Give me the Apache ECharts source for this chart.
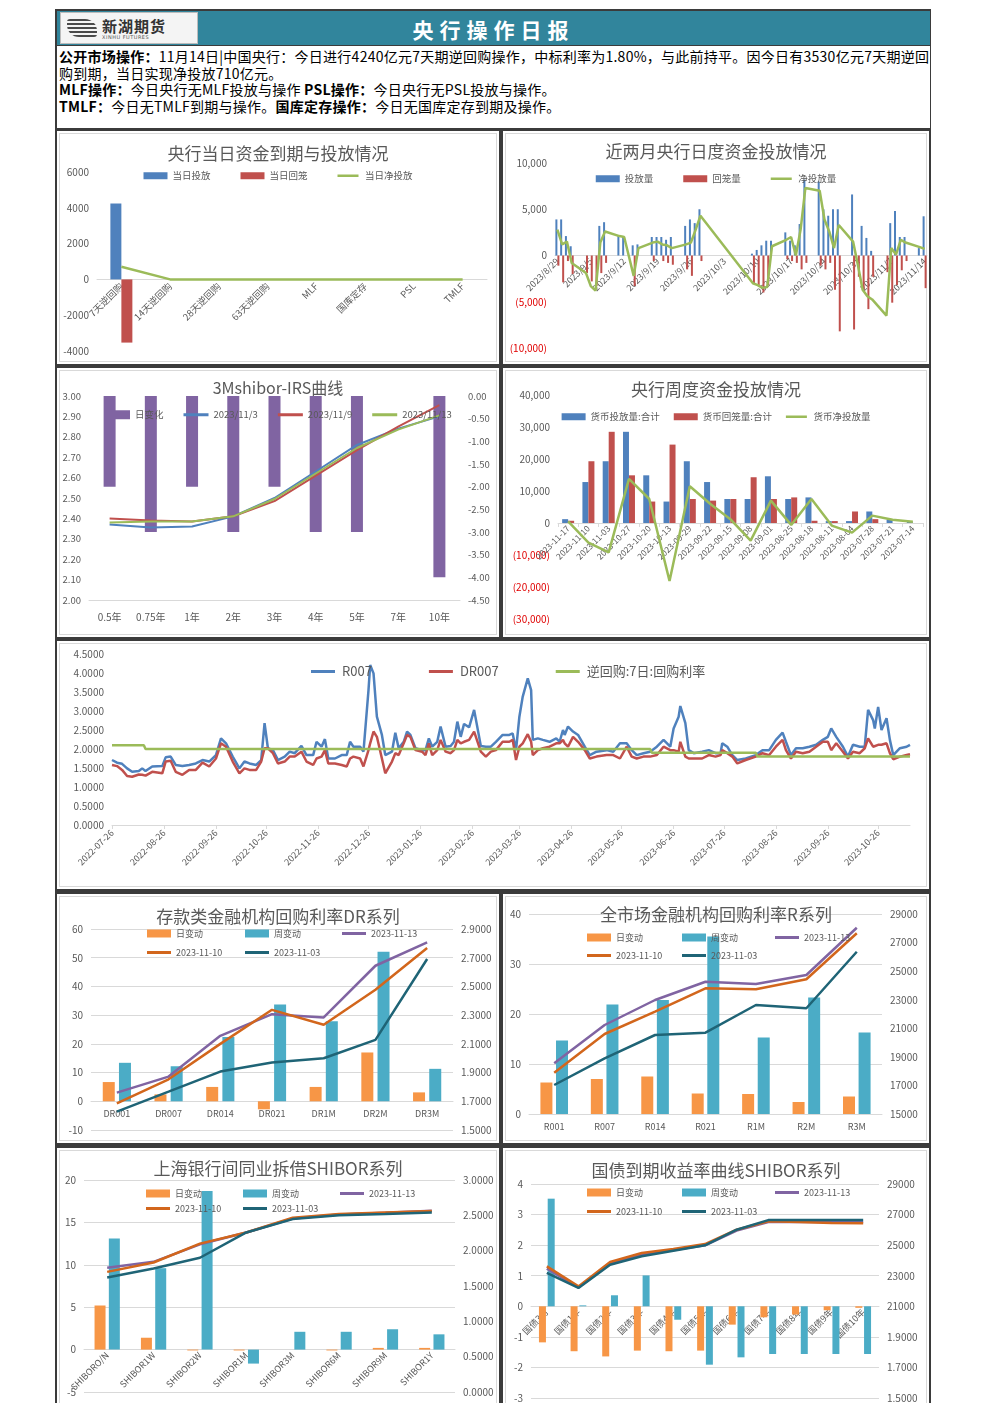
<!DOCTYPE html>
<html>
<head>
<meta charset="utf-8">
<title>央行操作日报</title>
<script src="https://cdn.jsdelivr.net/npm/echarts@6.0.0/dist/echarts.min.js"></script>
<style>
  html, body { margin: 0; padding: 0; background: #fff; }
  body { width: 992px; height: 1403px; overflow: hidden; position: relative; font-family: 'Noto Sans CJK SC', 'Noto Sans', sans-serif; }
  #frame { position: absolute; left: 55px; top: 9px; width: 876px; height: 1410px; background: #3b3b3b; }
  #bar { position: absolute; left: 2px; top: 2px; width: 873px; height: 34px; background: #31859c; }
  #logo { position: absolute; left: 3px; top: 1px; width: 136px; height: 30px; background: #f4f4f4; border: 1px solid #bbb; }
  #waves { position: absolute; left: 6px; top: 6px; width: 30px; height: 18px;
           background: repeating-linear-gradient(#4a4a4a 0 2px, transparent 2px 4px); border-radius: 3px 12px 3px 12px; }
  #lname { position: absolute; left: 41px; top: 2px; font-size: 15px; font-weight: bold; color: #333; letter-spacing: 1px; }
  #lsub { position: absolute; left: 41px; top: 21px; font-size: 5px; color: #555; letter-spacing: 0.5px; font-family: 'DejaVu Sans', sans-serif; }
  #htitle { position: absolute; left: 0; right: 0; top: 3px; text-align: center; color: #fff; font-size: 21px; font-weight: bold; letter-spacing: 6px; }
  #notes { position: absolute; left: 2px; top: 37px; width: 871px; height: 80px; background: #fff; padding: 2px 0 0 2px;
           font-size: 14px; line-height: 16.5px; color: #000; white-space: nowrap; letter-spacing: 0.25px; }
  #notes b { font-weight: bold; }
  .panel { position: absolute; background: #fff; }
  .ib { position: absolute; left: 2px; top: 2px; right: 2px; bottom: 2px; border: 1px solid #d9d9d9; }
  .chart { position: absolute; left: 0; top: 0; right: 0; bottom: 0; }
</style>
</head>
<body>
<div id="frame">
  <div id="bar">
    <div id="logo"><div id="waves"></div><div id="lname">新湖期货</div><div id="lsub">XINHU FUTURES</div></div>
    <div id="htitle">央行操作日报</div>
  </div>
  <div id="notes"><b>公开市场操作：</b>11月14日|中国央行：今日进行4240亿元7天期逆回购操作，中标利率为1.80%，与此前持平。因今日有3530亿元7天期逆回<br>购到期，当日实现净投放710亿元。<br><b>MLF操作：</b>今日央行无MLF投放与操作 <b>PSL操作：</b>今日央行无PSL投放与操作。<br><b>TMLF：</b>今日无TMLF到期与操作。<b>国库定存操作：</b>今日无国库定存到期及操作。</div>

  <div class="panel" style="left:2px;top:122px;width:442px;height:233px"><div class="ib"></div><div class="chart" id="c1"></div></div>
  <div class="panel" style="left:448px;top:122px;width:426px;height:233px"><div class="ib"></div><div class="chart" id="c2"></div></div>
  <div class="panel" style="left:2px;top:359px;width:442px;height:269px"><div class="ib"></div><div class="chart" id="c3"></div></div>
  <div class="panel" style="left:448px;top:359px;width:426px;height:269px"><div class="ib"></div><div class="chart" id="c4"></div></div>
  <div class="panel" style="left:2px;top:632px;width:872px;height:248px"><div class="ib"></div><div class="chart" id="c5"></div></div>
  <div class="panel" style="left:2px;top:885px;width:442px;height:249px"><div class="ib"></div><div class="chart" id="c6"></div></div>
  <div class="panel" style="left:448px;top:885px;width:426px;height:249px"><div class="ib"></div><div class="chart" id="c7"></div></div>
  <div class="panel" style="left:2px;top:1139px;width:442px;height:270px"><div class="ib"></div><div class="chart" id="c8"></div></div>
  <div class="panel" style="left:448px;top:1139px;width:426px;height:270px"><div class="ib"></div><div class="chart" id="c9"></div></div>
</div>

<script>
// ---- 央行当日资金到期与投放情况 ----
const c1Cats = ['7天逆回购', '14天逆回购', '28天逆回购', '63天逆回购', 'MLF', '国库定存', 'PSL', 'TMLF'];
const c1Inject = [4240, 0, 0, 0, 0, 0, 0, 0];
const c1Withdraw = [-3530, 0, 0, 0, 0, 0, 0, 0];
const c1Net = [710, 0, 0, 0, 0, 0, 0, 0];

// ---- 近两月央行日度资金投放情况 (trading days) ----
const c2Dates = ['2023-08-29', '2023-08-30', '2023-08-31', '2023-09-01', '2023-09-04', '2023-09-05', '2023-09-06',
  '2023-09-07', '2023-09-08', '2023-09-11', '2023-09-12', '2023-09-14', '2023-09-15', '2023-09-18', '2023-09-19',
  '2023-09-20', '2023-09-21', '2023-09-22', '2023-09-25', '2023-09-26', '2023-09-27', '2023-09-28', '2023-10-09',
  '2023-10-10', '2023-10-11', '2023-10-12', '2023-10-13', '2023-10-16', '2023-10-17', '2023-10-18', '2023-10-19',
  '2023-10-20', '2023-10-23', '2023-10-24', '2023-10-25', '2023-10-26', '2023-10-27', '2023-10-30', '2023-10-31',
  '2023-11-01', '2023-11-02', '2023-11-03', '2023-11-06', '2023-11-07', '2023-11-08', '2023-11-09', '2023-11-10',
  '2023-11-13', '2023-11-14'];
const c2Inject = [3900, 3900, 2100, 1000, 0, 0, 0, 3200, 3600, 2100, 2000, 1100, 1200, 2000, 2000, 2000, 1700, 2000,
  3200, 3900, 3500, 5000, 200, 600, 1100, 1600, 1600, 2500, 1600, 1100, 3400, 8200, 8000, 5000, 4300, 5000, 5000,
  6600, 0, 3200, 1900, 500, 0, 3500, 4800, 2000, 2000, 800, 4240];
const c2Withdraw = [-1100, -2900, -600, -2000, -1900, -2800, -3300, -1900, -800, 0, 0, -3300, 0, -600, 0, -600, -800,
  -1000, -1500, -2200, 0, -600, -3000, -3300, -4000, -3200, 0, -400, -600, -800, -1500, -800, -1100, -1500, -800,
  -3700, -8200, -8000, -2300, -3700, -5800, -2300, -1800, -5100, -3200, -1600, -600, 0, -3530];
const c2Net = [2800, 1200, 1500, -800, -1900, -3300, -3800, 1400, 2600, 2100, 2000, -2200, 800, 1400, 1500, 1200, 1100,
  800, 1200, 1400, 2800, 4300, -3000, -3200, -3500, -3400, 1000, 1700, 2000, 0, 2800, 7300, 7000, 3900, 2600, 800,
  3300, 1500, -1000, -3700, -4400, -4750, -6500, 800, 100, 1700, 1400, 900, 710];

// ---- 3Mshibor-IRS曲线 ----
const c3Tenors = ['0.5年', '0.75年', '1年', '2年', '3年', '4年', '5年', '7年', '10年'];
const c3Change = [-2, -3, -2, -3, -2, -3, -3, 0, -4];
const c3Nov3 = [2.37, 2.355, 2.36, 2.41, 2.50, 2.63, 2.76, 2.84, 2.90];
const c3Nov9 = [2.40, 2.39, 2.385, 2.41, 2.485, 2.61, 2.735, 2.85, 2.955];
const c3Nov13 = [2.38, 2.385, 2.385, 2.41, 2.495, 2.62, 2.745, 2.835, 2.905];

// ---- 央行周度资金投放情况 ----
const c4Weeks = ['2023-11-17', '2023-11-10', '2023-11-03', '2023-10-27', '2023-10-20', '2023-10-13', '2023-09-29',
  '2023-09-22', '2023-09-15', '2023-09-08', '2023-09-01', '2023-08-25', '2023-08-18', '2023-08-11', '2023-08-04',
  '2023-07-28', '2023-07-21', '2023-07-14'];
const c4Inject = [1200, 12800, 19300, 28500, 14900, 6700, 19300, 12800, 7500, 7500, 14600, 7500, 8000, 600, 600, 3600, 1000, 400];
const c4Withdraw = [700, 19300, 28500, 14900, 6700, 24500, 7500, 7000, 7500, 14300, 7500, 8000, 700, 600, 3600, 1200, 0, 0];
const c4Net = [500, -6100, -9200, 13800, 7500, -18100, 11500, 6000, 1200, -5500, 7000, -600, 7500, -800, -3000, 2300, 1000, 400];

// ---- R007 / DR007 / 逆回购7日 ----
const c5Dates = ['2022-07-26', '2022-07-29', '2022-08-01', '2022-08-04', '2022-08-07', '2022-08-11', '2022-08-13',
  '2022-08-15', '2022-08-19', '2022-08-25', '2022-08-27', '2022-08-30', '2022-09-02', '2022-09-06', '2022-09-10',
  '2022-09-14', '2022-09-18', '2022-09-22', '2022-09-26', '2022-09-29', '2022-10-02', '2022-10-06', '2022-10-10',
  '2022-10-13', '2022-10-16', '2022-10-20', '2022-10-23', '2022-10-25', '2022-10-27', '2022-10-30', '2022-11-02',
  '2022-11-06', '2022-11-09', '2022-11-12', '2022-11-16', '2022-11-19', '2022-11-23', '2022-11-25', '2022-11-28',
  '2022-11-30', '2022-12-02', '2022-12-06', '2022-12-10', '2022-12-13', '2022-12-15', '2022-12-17', '2022-12-21',
  '2022-12-23', '2022-12-26', '2022-12-27', '2022-12-29', '2022-12-31', '2023-01-03', '2023-01-05', '2023-01-09',
  '2023-01-11', '2023-01-13', '2023-01-16', '2023-01-18', '2023-01-20', '2023-01-23', '2023-01-27', '2023-01-29',
  '2023-01-31', '2023-02-02', '2023-02-05', '2023-02-07', '2023-02-10', '2023-02-13', '2023-02-15', '2023-02-17',
  '2023-02-19', '2023-02-21', '2023-02-24', '2023-02-27', '2023-03-03', '2023-03-06', '2023-03-09', '2023-03-12',
  '2023-03-16', '2023-03-20', '2023-03-22', '2023-03-24', '2023-03-26', '2023-03-28', '2023-03-31', '2023-04-02',
  '2023-04-03', '2023-04-06', '2023-04-09', '2023-04-13', '2023-04-17', '2023-04-19', '2023-04-21', '2023-04-22',
  '2023-04-24', '2023-04-27', '2023-04-30', '2023-05-04', '2023-05-07', '2023-05-11', '2023-05-17', '2023-05-21',
  '2023-05-25', '2023-05-29', '2023-06-01', '2023-06-04', '2023-06-08', '2023-06-12', '2023-06-16', '2023-06-20',
  '2023-06-24', '2023-06-26', '2023-06-29', '2023-06-30', '2023-07-03', '2023-07-05', '2023-07-08', '2023-07-13',
  '2023-07-17', '2023-07-21', '2023-07-24', '2023-07-25', '2023-07-28', '2023-07-31', '2023-08-03', '2023-08-08',
  '2023-08-14', '2023-08-18', '2023-08-22', '2023-08-26', '2023-08-30', '2023-09-01', '2023-09-04', '2023-09-07',
  '2023-09-11', '2023-09-15', '2023-09-19', '2023-09-23', '2023-09-26', '2023-09-28', '2023-10-01', '2023-10-05',
  '2023-10-08', '2023-10-11', '2023-10-15', '2023-10-18', '2023-10-20', '2023-10-23', '2023-10-24', '2023-10-26',
  '2023-10-28', '2023-10-31', '2023-11-02', '2023-11-04', '2023-11-08', '2023-11-12', '2023-11-14'];
const c5R007 = [1.71, 1.64, 1.61, 1.49, 1.40, 1.42, 1.49, 1.42, 1.54, 1.55, 1.78, 1.80, 1.58, 1.55, 1.58, 1.62, 1.71,
  1.67, 1.84, 2.28, 2.15, 1.80, 1.49, 1.67, 1.62, 1.58, 1.71, 2.68, 2.02, 1.97, 1.71, 1.80, 1.93, 1.89, 2.08, 1.84,
  1.84, 2.19, 2.06, 2.26, 1.75, 1.75, 1.84, 1.84, 2.19, 2.06, 2.06, 1.93, 3.55, 4.21, 3.99, 2.85, 2.37, 1.84, 1.93,
  2.43, 2.02, 2.19, 2.46, 2.37, 2.02, 1.97, 1.97, 2.28, 2.06, 2.19, 2.59, 2.06, 2.08, 2.19, 2.72, 2.32, 2.66, 2.57,
  3.03, 2.08, 2.06, 2.06, 2.19, 2.37, 2.37, 2.41, 1.97, 2.85, 3.38, 3.86, 3.55, 2.24, 2.28, 2.24, 2.19, 2.28, 2.19,
  2.50, 2.37, 2.59, 2.46, 2.37, 2.06, 1.84, 1.93, 1.97, 1.93, 2.15, 2.15, 1.97, 1.84, 1.89, 1.93, 2.06, 2.24, 2.06,
  2.54, 2.85, 3.13, 2.68, 1.97, 1.89, 1.93, 1.97, 1.89, 1.89, 2.15, 2.06, 1.84, 1.71, 1.75, 1.84, 1.97, 1.97, 2.24,
  2.43, 2.19, 1.84, 2.02, 2.02, 2.06, 2.11, 2.24, 2.32, 2.54, 2.32, 2.06, 1.80, 2.11, 2.06, 2.06, 3.03, 2.76, 2.54,
  3.11, 2.50, 2.81, 2.24, 1.84, 2.02, 2.06, 2.11];
const c5DR007 = [1.58, 1.55, 1.45, 1.29, 1.27, 1.33, 1.32, 1.30, 1.40, 1.36, 1.67, 1.69, 1.40, 1.32, 1.45, 1.45, 1.64,
  1.54, 1.75, 2.15, 2.06, 1.67, 1.36, 1.49, 1.45, 1.45, 1.67, 2.02, 2.02, 1.89, 1.62, 1.67, 1.80, 1.80, 1.93, 1.67,
  1.58, 1.75, 1.80, 1.97, 1.62, 1.62, 1.58, 1.54, 1.75, 1.80, 1.75, 1.54, 1.97, 2.15, 2.46, 2.32, 1.75, 1.36, 1.67,
  1.89, 1.84, 2.15, 2.37, 2.32, 1.97, 1.93, 1.84, 2.15, 1.84, 1.97, 2.24, 1.93, 1.89, 1.97, 2.24, 2.15, 2.19, 2.24,
  2.46, 1.93, 1.80, 1.93, 1.97, 2.19, 2.19, 2.24, 1.71, 2.06, 2.15, 2.39, 2.19, 1.84, 1.97, 2.02, 2.06, 2.15, 2.15,
  2.24, 2.15, 2.06, 2.32, 2.19, 1.97, 1.75, 1.80, 1.84, 1.84, 1.75, 2.06, 1.80, 1.75, 1.80, 1.80, 1.84, 2.06, 1.97,
  1.97, 1.93, 2.19, 1.80, 1.75, 1.75, 1.75, 1.84, 1.80, 1.84, 1.97, 1.89, 1.80, 1.62, 1.71, 1.80, 1.89, 1.84, 2.06,
  2.24, 1.97, 1.75, 1.93, 1.89, 1.93, 2.06, 2.19, 2.19, 1.97, 2.15, 1.93, 1.75, 1.93, 1.89, 2.02, 2.28, 2.06, 2.06,
  2.11, 2.11, 2.15, 1.89, 1.73, 1.80, 1.84, 1.86];
const c5RepoDates = ['2022-07-26', '2022-08-14', '2022-08-15', '2023-06-12', '2023-06-13', '2023-08-14', '2023-08-15', '2023-11-14'];
const c5Repo = [2.10, 2.10, 2.00, 2.00, 1.90, 1.90, 1.80, 1.80];

// ---- 存款类金融机构回购利率DR系列 ----
const c6Names = ['DR001', 'DR007', 'DR014', 'DR021', 'DR1M', 'DR2M', 'DR3M'];
const c6Day = [6.7, 2.4, 5.0, -2.8, 5.0, 17.0, 3.1];
const c6Week = [13.4, 12.2, 22.4, 33.7, 27.9, 52.1, 11.3];
const c6Nov13 = [1.760, 1.872, 2.156, 2.307, 2.284, 2.644, 2.807];
const c6Nov10 = [1.686, 1.853, 2.100, 2.337, 2.233, 2.477, 2.767];
const c6Nov03 = [1.628, 1.767, 1.907, 1.970, 2.000, 2.128, 2.691];

// ---- 全市场金融机构回购利率R系列 ----
const c7Names = ['R001', 'R007', 'R014', 'R021', 'R1M', 'R2M', 'R3M'];
const c7Day = [6.3, 7.0, 7.5, 4.1, 4.0, 2.4, 3.5];
const c7Week = [14.7, 21.9, 22.8, 35.5, 15.3, 23.3, 16.3];
const c7Nov13 = [1.855, 2.123, 2.298, 2.426, 2.410, 2.473, 2.804];
const c7Nov10 = [1.789, 2.060, 2.216, 2.380, 2.373, 2.443, 2.765];
const c7Nov03 = [1.703, 1.890, 2.053, 2.069, 2.263, 2.240, 2.636];

// ---- 上海银行间同业拆借SHIBOR系列 ----
const c8Names = ['SHIBORO/N', 'SHIBOR1W', 'SHIBOR2W', 'SHIBOR1M', 'SHIBOR3M', 'SHIBOR6M', 'SHIBOR9M', 'SHIBOR1Y'];
const c8Day = [5.2, 1.4, -0.1, -0.1, 0, -0.1, 0.2, 0.2];
const c8Week = [13.1, 9.6, 18.7, -1.65, 2.1, 2.1, 2.4, 1.8];
const c8Nov13 = [1.757, 1.842, 2.090, 2.258, 2.456, 2.513, 2.537, 2.565];
const c8Nov10 = [1.700, 1.833, 2.100, 2.258, 2.466, 2.518, 2.540, 2.560];
const c8Nov03 = [1.620, 1.748, 1.900, 2.258, 2.447, 2.500, 2.518, 2.540];

// ---- 国债到期收益率曲线SHIBOR系列 ----
const c9Names = ['国债3月', '国债1年', '国债2年', '国债3年', '国债4年', '国债5年', '国债6年', '国债7年', '国债8年', '国债9年', '国债10年'];
const c9Day = [-1.18, -1.47, -1.64, -1.45, -1.47, -1.45, -0.6, -0.36, -0.27, -0.13, -0.05];
const c9Week = [3.52, 0.03, 0.36, 1.01, -0.44, -1.91, -1.67, -1.56, -1.56, -1.56, -1.56];
const c9Nov13 = [2.346, 2.224, 2.379, 2.438, 2.468, 2.499, 2.595, 2.651, 2.651, 2.651, 2.651];
const c9Nov10 = [2.361, 2.230, 2.390, 2.449, 2.475, 2.507, 2.601, 2.656, 2.651, 2.645, 2.643];
const c9Nov03 = [2.318, 2.220, 2.372, 2.427, 2.464, 2.499, 2.601, 2.664, 2.664, 2.664, 2.664];

const FONT = "'Noto Sans CJK SC', 'Noto Sans', sans-serif";
const GREY = '#595959', AX = '#d9d9d9';
const BLUE = '#4f81bd', RED = '#c0504d', GREEN = '#9bbb59', PURPLE = '#8064a2';
const ORANGE = '#f79646', TEAL = '#4bacc6', BROWN = '#d2661c', DTEAL = '#1f6476';
// legend icon for line series: a thin bar, padded with hairlines so it is not stretched to full height
const LINE_ICON = 'path://M0,0h24v0.01H0z M0,2.6h24v2.8H0z M0,7.99h24v0.01H0z';

function txt(size, color) { return { fontFamily: FONT, fontSize: size, color: color || GREY }; }
function title(text, top, size) {
  return { text: text, left: 'center', top: top, textStyle: Object.assign(txt(size || 17), { fontWeight: 'normal' }) };
}
function grid(o) { return Object.assign({ containLabel: false, outerBoundsMode: 'none' }, o); }
function plain(v) { return String(v); }
// Excel accounting style: negatives in red with brackets
function acct(v) { v = +v; const s = Math.abs(v).toLocaleString('en-US'); return v < 0 ? '(' + s + ')' : s; }
function acctColor(v) { return +v < 0 ? '#e00000' : GREY; }
function legendData(bars, lines) {
  return bars.map(n => ({ name: n, icon: 'rect' })).concat(lines.map(n => ({ name: n, icon: LINE_ICON })));
}
// Excel puts the category axis (and its labels) on the value 0 line: lift the bottom axis there
function zeroOffset(min, max, plotHeight) { return -plotHeight * (0 - min) / (max - min); }
const baseLine = { onZero: false, lineStyle: { color: AX } };

// every calendar day between two dates, so the axis spaces points like a date axis
function calendarDays(from, to) {
  const out = [];
  const end = Date.parse(to + 'T00:00:00Z');
  for (let t = Date.parse(from + 'T00:00:00Z'); t <= end; t += 86400000) out.push(new Date(t).toISOString().slice(0, 10));
  return out;
}
function onDays(days, dates, values) {
  const m = {};
  dates.forEach((d, i) => { m[d] = values[i]; });
  return days.map(d => (d in m ? m[d] : null));
}
function slashDate(d) { const p = d.split('-'); return p[0] + '/' + (+p[1]) + '/' + (+p[2]); }

function draw(id, option) {
  const chart = echarts.init(document.getElementById(id));
  chart.setOption(Object.assign({ animation: false, textStyle: { fontFamily: FONT } }, option));
}
function lineSeries(name, data, color, extra) {
  return Object.assign({ name: name, type: 'line', data: data, symbol: 'none', showSymbol: false,
    lineStyle: { color: color, width: 2.5 }, itemStyle: { color: color } }, extra || {});
}

// 1 央行当日资金到期与投放情况
draw('c1', {
  title: title('央行当日资金到期与投放情况', 9),
  legend: { top: 35, left: 'center', itemWidth: 24, itemHeight: 7, itemGap: 30, textStyle: txt(9.5),
    data: legendData(['当日投放', '当日回笼'], ['当日净投放']) },
  grid: grid({ left: 40, right: 12, top: 41, height: 179 }),
  xAxis: { type: 'category', data: c1Cats, axisLine: baseLine, axisTick: { show: false }, offset: zeroOffset(-4000, 6000, 179),
    axisLabel: Object.assign(txt(9.5), { rotate: 45, interval: 0, margin: 5 }) },
  yAxis: { type: 'value', min: -4000, max: 6000, interval: 2000, splitLine: { show: false },
    axisLabel: Object.assign(txt(10), { formatter: plain }) },
  series: [
    { name: '当日投放', type: 'bar', data: c1Inject, barWidth: 11, barGap: '0%', itemStyle: { color: BLUE } },
    { name: '当日回笼', type: 'bar', data: c1Withdraw, barWidth: 11, itemStyle: { color: RED } },
    lineSeries('当日净投放', c1Net, GREEN)
  ]
});

// 2 近两月央行日度资金投放情况
const c2Days = calendarDays('2023-08-29', '2023-11-14');
draw('c2', {
  title: title('近两月央行日度资金投放情况', 7),
  legend: { top: 38, left: 'center', itemWidth: 24, itemHeight: 7, itemGap: 30, textStyle: txt(9.5),
    data: legendData(['投放量', '回笼量'], ['净投放量']) },
  grid: grid({ left: 52, right: 2, top: 32, height: 185 }),
  xAxis: { type: 'category', data: c2Days, axisLine: baseLine, axisTick: { show: false }, offset: zeroOffset(-10000, 10000, 185),
    axisLabel: Object.assign(txt(9), { rotate: 45, interval: 6, margin: 4, formatter: slashDate }) },
  yAxis: { type: 'value', min: -10000, max: 10000, interval: 5000, splitLine: { show: false },
    axisLabel: Object.assign(txt(10), { formatter: acct, color: acctColor }) },
  series: [
    { name: '投放量', type: 'bar', data: onDays(c2Days, c2Dates, c2Inject), barWidth: 2, barGap: '0%', itemStyle: { color: BLUE } },
    { name: '回笼量', type: 'bar', data: onDays(c2Days, c2Dates, c2Withdraw), barWidth: 2, itemStyle: { color: RED } },
    lineSeries('净投放量', onDays(c2Days, c2Dates, c2Net), GREEN, { connectNulls: true })
  ]
});

// 3 3Mshibor-IRS曲线
draw('c3', {
  title: title('3Mshibor-IRS曲线', 7, 16),
  legend: { top: 37, left: 43, itemWidth: 25, itemHeight: 9, itemGap: 20, textStyle: txt(9.5),
    data: legendData(['日变化'], ['2023/11/3', '2023/11/9', '2023/11/13']) },
  grid: grid({ left: 32, right: 39, top: 28, bottom: 37 }),
  xAxis: { type: 'category', data: c3Tenors, axisLine: baseLine, axisTick: { show: false },
    axisLabel: Object.assign(txt(10), { interval: 0, margin: 12 }) },
  yAxis: [
    { type: 'value', min: 2, max: 3, interval: 0.1, splitLine: { show: false },
      axisLabel: Object.assign(txt(9.5), { formatter: v => (+v).toFixed(2) }) },
    { type: 'value', min: -4.5, max: 0, interval: 0.5, position: 'right', splitLine: { show: false },
      axisLabel: Object.assign(txt(9.5), { formatter: v => (+v).toFixed(2) }) }
  ],
  series: [
    { name: '日变化', type: 'bar', yAxisIndex: 1, data: c3Change, barWidth: 12, itemStyle: { color: PURPLE } },
    lineSeries('2023/11/3', c3Nov3, BLUE, { lineStyle: { color: BLUE, width: 2 } }),
    lineSeries('2023/11/9', c3Nov9, RED, { lineStyle: { color: RED, width: 2 } }),
    lineSeries('2023/11/13', c3Nov13, GREEN, { lineStyle: { color: GREEN, width: 2 } })
  ]
});

// 4 央行周度资金投放情况
draw('c4', {
  title: title('央行周度资金投放情况', 8),
  legend: { top: 39, left: 'center', itemWidth: 24, itemHeight: 7, itemGap: 14, textStyle: txt(9.5),
    data: legendData(['货币投放量:合计', '货币回笼量:合计'], ['货币净投放量']) },
  grid: grid({ left: 55, right: 6, top: 27, height: 224 }),
  xAxis: { type: 'category', data: c4Weeks, axisLine: baseLine, offset: zeroOffset(-30000, 40000, 224),
    axisTick: { show: true, length: 4, lineStyle: { color: AX } },
    axisLabel: Object.assign(txt(8.5), { rotate: 45, interval: 0, margin: 4 }) },
  yAxis: { type: 'value', min: -30000, max: 40000, interval: 10000, splitLine: { show: false },
    axisLabel: Object.assign(txt(10), { formatter: acct, color: acctColor }) },
  series: [
    { name: '货币投放量:合计', type: 'bar', data: c4Inject, barWidth: 6, barGap: '0%', itemStyle: { color: BLUE } },
    { name: '货币回笼量:合计', type: 'bar', data: c4Withdraw, barWidth: 6, itemStyle: { color: RED } },
    lineSeries('货币净投放量', c4Net, GREEN)
  ]
});

// 5 R007 / DR007 / 逆回购:7日:回购利率
const c5Days = calendarDays('2022-07-26', '2023-11-14');
const on26 = (i, v) => v.slice(8) === '26';
draw('c5', {
  legend: { top: 19, left: 249, itemWidth: 28, itemHeight: 8, itemGap: 57, textStyle: txt(13),
    data: legendData([], ['R007', 'DR007', '逆回购:7日:回购利率']) },
  grid: grid({ left: 55, right: 19, top: 13, bottom: 64 }),
  xAxis: { type: 'category', data: c5Days, boundaryGap: false, axisLine: baseLine,
    axisTick: { show: true, interval: on26, length: 4, lineStyle: { color: AX } },
    axisLabel: Object.assign(txt(9), { rotate: 45, interval: on26, margin: 6 }) },
  yAxis: { type: 'value', min: 0, max: 4.5, interval: 0.5, splitLine: { show: false },
    axisLabel: Object.assign(txt(10), { formatter: v => (+v).toFixed(4) }) },
  series: [
    lineSeries('R007', onDays(c5Days, c5Dates, c5R007), BLUE, { connectNulls: true }),
    lineSeries('DR007', onDays(c5Days, c5Dates, c5DR007), RED, { connectNulls: true }),
    lineSeries('逆回购:7日:回购利率', onDays(c5Days, c5RepoDates, c5Repo), GREEN, { connectNulls: true })
  ]
});

// 6-9 curve charts: daily / weekly change bars + three dated curves
function legendOne(name, left, top, bar) {
  return { data: [{ name: name, icon: bar ? 'rect' : LINE_ICON }], left: left, top: top, itemWidth: 24,
    itemHeight: 8, textStyle: txt(9), selectedMode: false };
}
function curveChart(id, c) {
  draw(id, {
    title: title(c.title, c.titleTop),
    legend: [
      legendOne('日变动', c.lx[0], c.ly[0], true),
      legendOne('周变动', c.lx[1], c.ly[0], true),
      legendOne('2023-11-13', c.lx[2], c.ly[0]),
      legendOne('2023-11-10', c.lx[0], c.ly[1]),
      legendOne('2023-11-03', c.lx[1], c.ly[1])
    ],
    grid: grid(c.grid),
    xAxis: { type: 'category', data: c.names, axisLine: baseLine, axisTick: { show: false },
      offset: zeroOffset(c.left[0], c.left[1], c.grid.height),
      axisLabel: Object.assign(txt(9), { rotate: c.rotate || 0, interval: 0, margin: c.rotate ? 4 : 8 }) },
    yAxis: [
      { type: 'value', min: c.left[0], max: c.left[1], interval: c.left[2], axisLabel: Object.assign(txt(10), { formatter: plain }),
        splitLine: { lineStyle: { color: AX } } },
      { type: 'value', min: c.right[0], max: c.right[1], interval: c.right[2], position: 'right',
        splitLine: { show: false }, axisLabel: Object.assign(txt(10), { formatter: c.rightFmt }) }
    ],
    series: [
      { name: '日变动', type: 'bar', data: c.day, barWidth: c.barWidth, barGap: c.barGap, itemStyle: { color: ORANGE } },
      { name: '周变动', type: 'bar', data: c.week, barWidth: c.barWidth, itemStyle: { color: TEAL } },
      lineSeries('2023-11-13', c.nov13, PURPLE, { yAxisIndex: 1 }),
      lineSeries('2023-11-10', c.nov10, BROWN, { yAxisIndex: 1 }),
      lineSeries('2023-11-03', c.nov03, DTEAL, { yAxisIndex: 1 })
    ]
  });
}
const fix4 = v => (+v).toFixed(4);

curveChart('c6', {
  title: '存款类金融机构回购利率DR系列', titleTop: 9, names: c6Names,
  day: c6Day, week: c6Week, nov13: c6Nov13, nov10: c6Nov10, nov03: c6Nov03,
  grid: { left: 34, right: 46, top: 35, height: 201 },
  left: [-10, 60, 10], right: [1.5, 2.9, 0.2], rightFmt: fix4,
  lx: [85, 183, 280], ly: [30, 49], barWidth: 12, barGap: '35%'
});
curveChart('c7', {
  title: '全市场金融机构回购利率R系列', titleTop: 7, names: c7Names,
  day: c7Day, week: c7Week, nov13: c7Nov13, nov10: c7Nov10, nov03: c7Nov03,
  grid: { left: 26, right: 47, top: 20, height: 200 },
  left: [0, 40, 10], right: [1.5, 2.9, 0.2], rightFmt: v => (+v).toFixed(4).replace('.', ''),
  lx: [79, 174, 267], ly: [34, 52], barWidth: 12, barGap: '30%'
});
curveChart('c8', {
  title: '上海银行间同业拆借SHIBOR系列', titleTop: 7, names: c8Names, rotate: 45,
  day: c8Day, week: c8Week, nov13: c8Nov13, nov10: c8Nov10, nov03: c8Nov03,
  grid: { left: 27, width: 371, top: 32, height: 212 },
  left: [-5, 20, 5], right: [0, 3, 0.5], rightFmt: fix4,
  lx: [84, 181, 278], ly: [36, 51], barWidth: 11, barGap: '30%'
});
curveChart('c9', {
  title: '国债到期收益率曲线SHIBOR系列', titleTop: 9, names: c9Names, rotate: 45,
  day: c9Day, week: c9Week, nov13: c9Nov13, nov10: c9Nov10, nov03: c9Nov03,
  grid: { left: 28, width: 348, top: 36, height: 214 },
  left: [-3, 4, 1], right: [1.5, 2.9, 0.2],
  rightFmt: v => (+v >= 2 ? (+v).toFixed(4).replace('.', '') : (+v).toFixed(4)),
  lx: [79, 174, 267], ly: [35, 54], barWidth: 7, barGap: '25%'
});
</script>
</body>
</html>
